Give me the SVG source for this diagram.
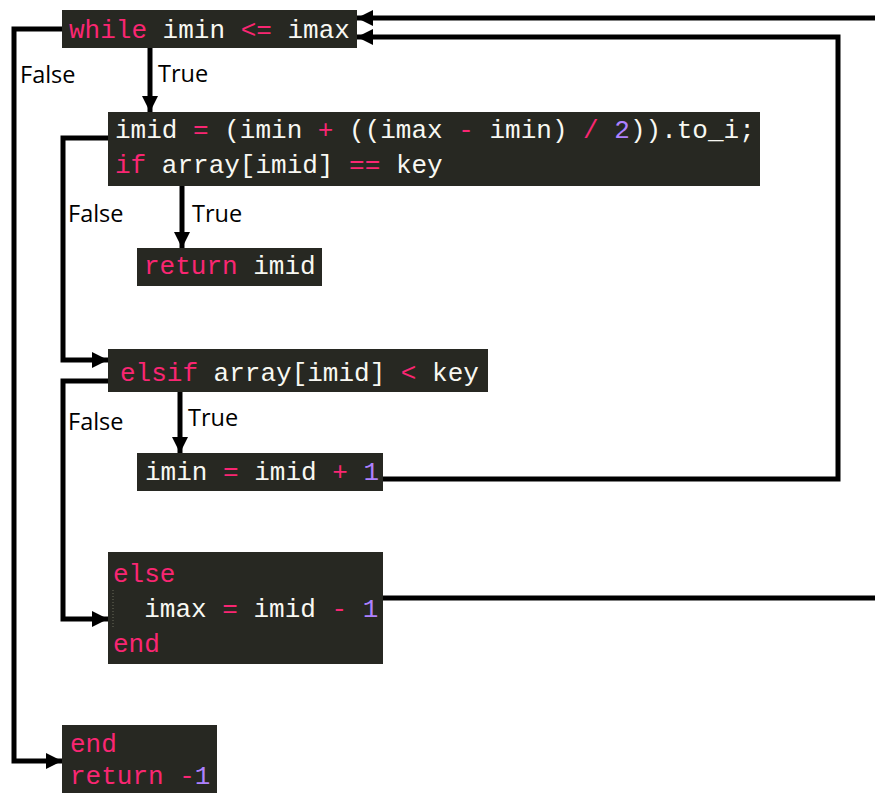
<svg xmlns="http://www.w3.org/2000/svg" width="875" height="793" viewBox="0 0 875 793">
<style>
.box{fill:#272822}
.code{font-family:"Liberation Mono","DejaVu Sans Mono",monospace;font-size:26px;fill:#f8f8f2}
.k{fill:#f92672}
.n{fill:#ae81ff}
.lbl{font-family:"Open Sans","Liberation Sans",sans-serif;font-size:23.5px;fill:#000}
.con{fill:none;stroke:#000;stroke-width:5}
.guide{stroke:#6a6a5a;stroke-width:1;stroke-dasharray:1 2}
</style>
<defs>
<marker id="arr" markerUnits="userSpaceOnUse" markerWidth="18" markerHeight="18" refX="16" refY="8" orient="auto">
<path d="M0,0 L16,8 L0,16 Z" fill="#000"/>
</marker>
</defs>
<g id="connectors">
<path class="con" d="M150,48 V112" marker-end="url(#arr)"/>
<path class="con" d="M62,29 H14 V761 H62" marker-end="url(#arr)"/>
<path class="con" d="M182,186 V248" marker-end="url(#arr)"/>
<path class="con" d="M108,138 H63 V360 H108" marker-end="url(#arr)"/>
<path class="con" d="M180,392 V453" marker-end="url(#arr)"/>
<path class="con" d="M108,381 H63 V619 H108" marker-end="url(#arr)"/>
<path class="con" d="M383,479 H838 V37 H357" marker-end="url(#arr)"/>
<path class="con" d="M383,598 H885 V18 H357" marker-end="url(#arr)"/>
<text class="lbl" x="20" y="83">False</text>
<text class="lbl" x="158" y="82">True</text>
<text class="lbl" x="68" y="222">False</text>
<text class="lbl" x="192" y="222">True</text>
<text class="lbl" x="68" y="430">False</text>
<text class="lbl" x="188" y="426">True</text>
</g>
<g id="while">
<rect class="box" x="62" y="10" width="295" height="38"/>
<text class="code" x="69" y="38" xml:space="preserve"><tspan class="k">while</tspan> imin <tspan class="k">&lt;=</tspan> imax</text>
</g>
<g id="imid">
<rect class="box" x="108" y="112" width="652" height="74"/>
<text class="code" x="115" y="138" xml:space="preserve">imid <tspan class="k">=</tspan> (imin <tspan class="k">+</tspan> ((imax <tspan class="k">-</tspan> imin) <tspan class="k">/</tspan> <tspan class="n">2</tspan>)).to_i;</text>
<text class="code" x="115" y="173" xml:space="preserve"><tspan class="k">if</tspan> array[imid] <tspan class="k">==</tspan> key</text>
</g>
<g id="return_imid">
<rect class="box" x="137" y="248" width="185" height="38"/>
<text class="code" x="144" y="274" xml:space="preserve"><tspan class="k">return</tspan> imid</text>
</g>
<g id="elsif">
<rect class="box" x="108" y="349" width="380" height="43"/>
<text class="code" x="120" y="381" xml:space="preserve"><tspan class="k">elsif</tspan> array[imid] <tspan class="k">&lt;</tspan> key</text>
</g>
<g id="imin_update">
<rect class="box" x="137" y="453" width="246" height="38"/>
<text class="code" x="145" y="480" xml:space="preserve">imin <tspan class="k">=</tspan> imid <tspan class="k">+</tspan> <tspan class="n">1</tspan></text>
</g>
<g id="else">
<rect class="box" x="108" y="552" width="275" height="112"/>
<line class="guide" x1="113" y1="590" x2="113" y2="627"/>
<text class="code" x="113" y="582" xml:space="preserve"><tspan class="k">else</tspan></text>
<text class="code" x="113" y="617" xml:space="preserve">  imax <tspan class="k">=</tspan> imid <tspan class="k">-</tspan> <tspan class="n">1</tspan></text>
<text class="code" x="113" y="652" xml:space="preserve"><tspan class="k">end</tspan></text>
</g>
<g id="end_return">
<rect class="box" x="62" y="725" width="155" height="68"/>
<text class="code" x="70" y="752" xml:space="preserve"><tspan class="k">end</tspan></text>
<text class="code" x="70" y="784" xml:space="preserve"><tspan class="k">return</tspan> <tspan class="k">-</tspan><tspan class="n">1</tspan></text>
</g>
</svg>
